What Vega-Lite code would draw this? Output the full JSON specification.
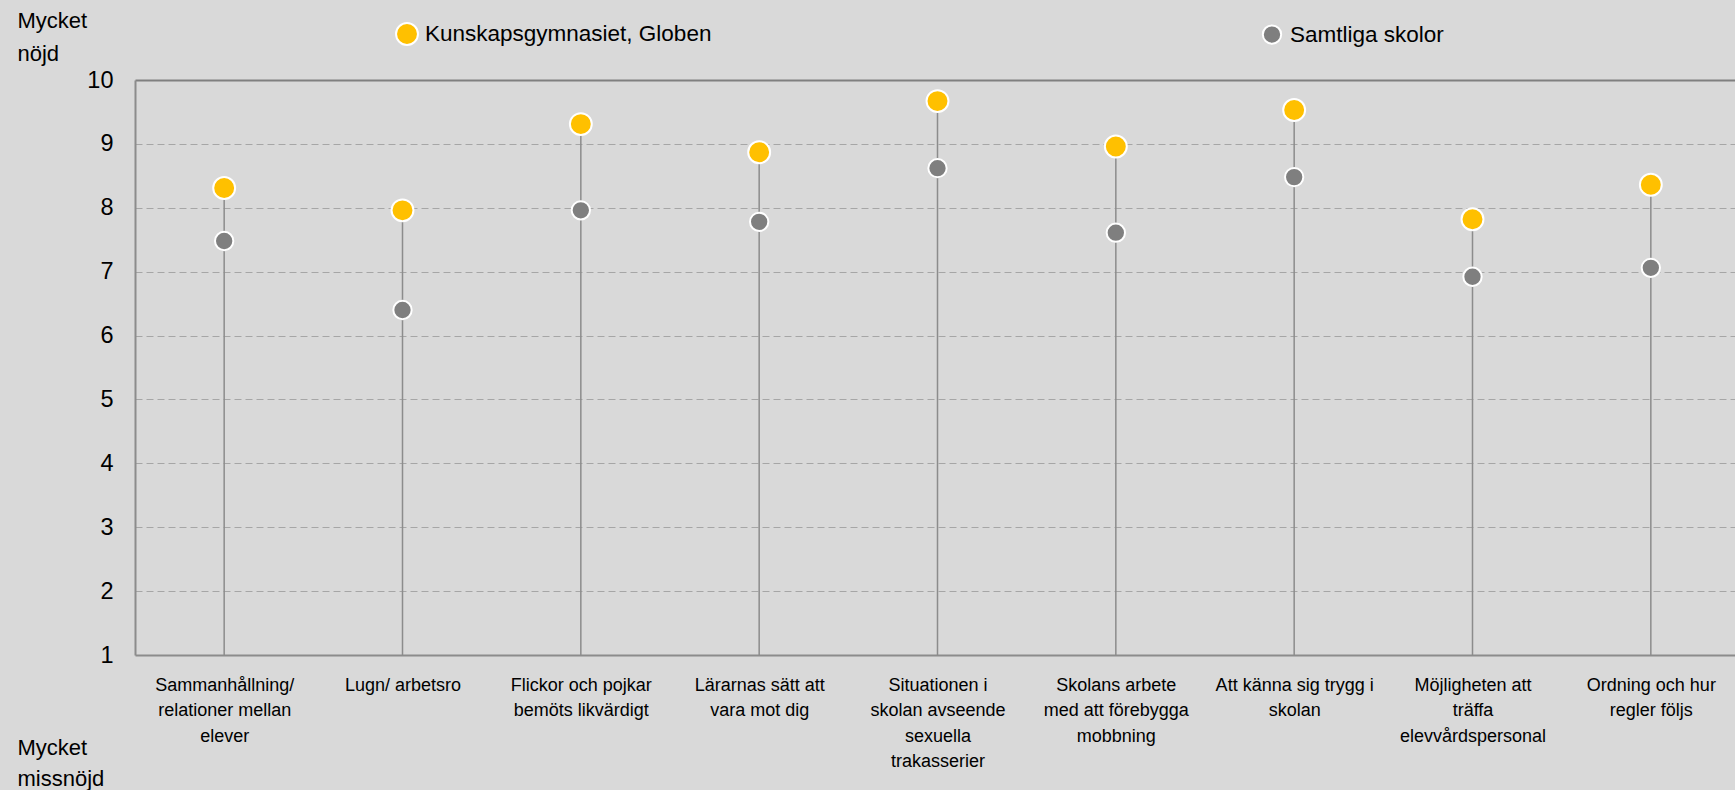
{
  "$schema": "https://vega.github.io/schema/vega-lite/v6.json",
  "width": 1600,
  "height": 575,
  "autosize": {"type": "none"},
  "padding": {"left": 135, "top": 80, "right": 0, "bottom": 135},
  "background": "#D9D9D9",
  "config": {"font": "Liberation Sans", "view": {"stroke": null}},
  "data": {
    "values": [
      {"omrade": "Sammanhållning/|relationer mellan|elever", "serie": "Kunskapsgymnasiet, Globen", "varde": 8.31},
      {"omrade": "Lugn/ arbetsro", "serie": "Kunskapsgymnasiet, Globen", "varde": 7.96},
      {"omrade": "Flickor och pojkar|bemöts likvärdigt", "serie": "Kunskapsgymnasiet, Globen", "varde": 9.31},
      {"omrade": "Lärarnas sätt att|vara mot dig", "serie": "Kunskapsgymnasiet, Globen", "varde": 8.87},
      {"omrade": "Situationen i|skolan avseende|sexuella|trakasserier", "serie": "Kunskapsgymnasiet, Globen", "varde": 9.67},
      {"omrade": "Skolans arbete|med att förebygga|mobbning", "serie": "Kunskapsgymnasiet, Globen", "varde": 8.96},
      {"omrade": "Att känna sig trygg i|skolan", "serie": "Kunskapsgymnasiet, Globen", "varde": 9.53},
      {"omrade": "Möjligheten att|träffa|elevvårdspersonal", "serie": "Kunskapsgymnasiet, Globen", "varde": 7.82},
      {"omrade": "Ordning och hur|regler följs", "serie": "Kunskapsgymnasiet, Globen", "varde": 8.36},
      {"omrade": "Sammanhållning/|relationer mellan|elever", "serie": "Samtliga skolor", "varde": 7.48},
      {"omrade": "Lugn/ arbetsro", "serie": "Samtliga skolor", "varde": 6.4},
      {"omrade": "Flickor och pojkar|bemöts likvärdigt", "serie": "Samtliga skolor", "varde": 7.96},
      {"omrade": "Lärarnas sätt att|vara mot dig", "serie": "Samtliga skolor", "varde": 7.78},
      {"omrade": "Situationen i|skolan avseende|sexuella|trakasserier", "serie": "Samtliga skolor", "varde": 8.62},
      {"omrade": "Skolans arbete|med att förebygga|mobbning", "serie": "Samtliga skolor", "varde": 7.61},
      {"omrade": "Att känna sig trygg i|skolan", "serie": "Samtliga skolor", "varde": 8.48},
      {"omrade": "Möjligheten att|träffa|elevvårdspersonal", "serie": "Samtliga skolor", "varde": 6.92},
      {"omrade": "Ordning och hur|regler följs", "serie": "Samtliga skolor", "varde": 7.06}
    ]
  },
  "encoding": {
    "x": {
      "field": "omrade",
      "type": "nominal",
      "sort": null,
      "scale": {"type": "point", "range": [0, 1605], "padding": 0.5},
      "axis": {
        "labelExpr": "split(datum.label, '|')",
        "labelAngle": 0,
        "labelFontSize": 18,
        "labelLineHeight": 25.5,
        "labelColor": "#000000",
        "labelBaseline": "top",
        "labelPadding": 21,
        "labelLimit": 400,
        "ticks": false,
        "domain": true,
        "domainColor": "#8c8c8c",
        "domainWidth": 2,
        "grid": false,
        "title": ["Mycket", "missnöjd"],
        "titleFontSize": 22,
        "titleFontWeight": "normal",
        "titleColor": "#000000",
        "titleAngle": 0,
        "titleAlign": "left",
        "titleBaseline": "alphabetic",
        "titleLineHeight": 31,
        "titleX": -118,
        "titleY": 99
      }
    }
  },
  "layer": [
    {
      "transform": [{"filter": "datum.serie === 'Kunskapsgymnasiet, Globen'"}],
      "mark": {"type": "rule", "color": "#8c8c8c", "strokeWidth": 1.5},
      "encoding": {
        "y": {
          "field": "varde",
          "type": "quantitative",
          "scale": {"domain": [1, 10], "nice": false, "zero": false},
          "axis": {
            "values": [1, 2, 3, 4, 5, 6, 7, 8, 9, 10],
            "format": "d",
            "labelFontSize": 23.5,
            "labelColor": "#000000",
            "labelPadding": 22,
            "ticks": false,
            "domain": true,
            "domainColor": "#8c8c8c",
            "domainWidth": 2,
            "grid": true,
            "gridColor": {"condition": {"test": "datum.value === 10", "value": "#808080"}, "value": "#a6a6a6"},
            "gridWidth": {"condition": {"test": "datum.value === 10", "value": 2}, "value": 1},
            "gridDash": {"condition": {"test": "datum.value === 10", "value": [1, 0]}, "value": [7, 4]},
            "gridOpacity": {"condition": {"test": "datum.value === 1", "value": 0}, "value": 1},
            "title": ["Mycket", "nöjd"],
            "titleFontSize": 22,
            "titleFontWeight": "normal",
            "titleColor": "#000000",
            "titleAngle": 0,
            "titleAlign": "left",
            "titleBaseline": "alphabetic",
            "titleLineHeight": 33,
            "titleX": -118,
            "titleY": -53
          }
        },
        "y2": {"datum": 1}
      }
    },
    {
      "mark": {"type": "point", "filled": true, "opacity": 1, "stroke": "white", "strokeWidth": 2},
      "encoding": {
        "y": {"field": "varde", "type": "quantitative"},
        "color": {
          "field": "serie",
          "type": "nominal",
          "scale": {"domain": ["Kunskapsgymnasiet, Globen", "Samtliga skolor"], "range": ["#FFC000", "#7F7F7F"]},
          "legend": {
            "title": null,
            "orient": "none",
            "legendX": 260,
            "legendY": -58,
            "direction": "horizontal",
            "columns": 2,
            "columnPadding": 546,
            "padding": 0,
            "labelFontSize": 22.5,
            "labelColor": "#000000",
            "labelOffset": 6,
            "labelLimit": 600,
            "symbolType": "circle",
            "symbolSize": 200,
            "symbolStrokeColor": "white",
            "symbolStrokeWidth": 2,
            "symbolOpacity": 1
          }
        },
        "size": {
          "field": "serie",
          "type": "nominal",
          "scale": {"domain": ["Kunskapsgymnasiet, Globen", "Samtliga skolor"], "range": [480, 336]},
          "legend": null
        }
      }
    }
  ]
}
